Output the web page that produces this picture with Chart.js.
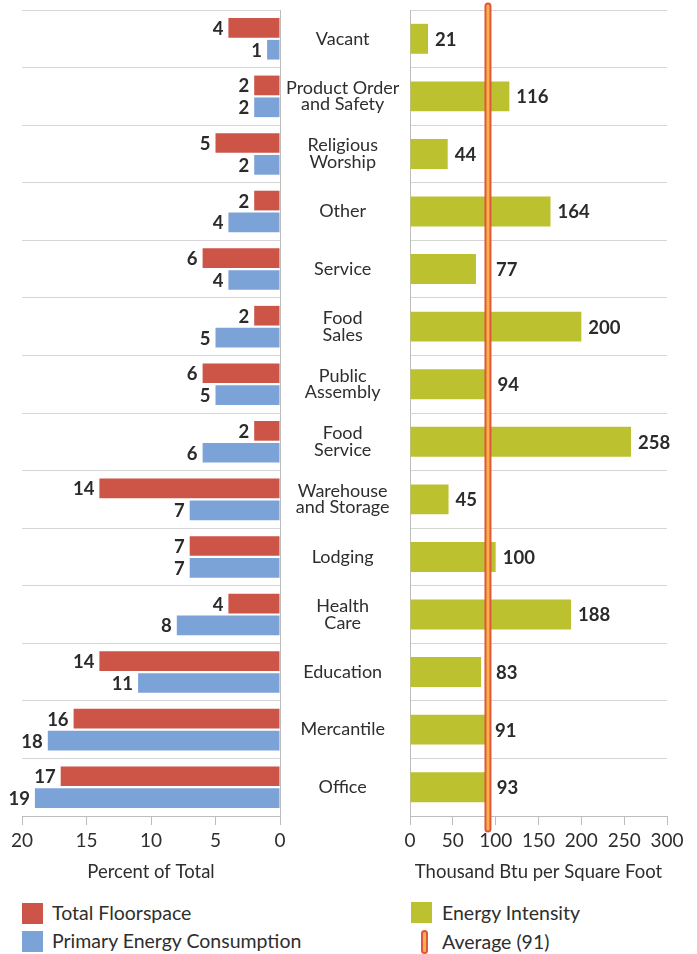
<!DOCTYPE html>
<html>
<head>
<meta charset="utf-8">
<script src="https://cdn.jsdelivr.net/npm/chart.js@4.4.1/dist/chart.umd.min.js"></script>
<style>
  body { margin: 0; background: #fff; font-family: Lato, sans-serif; color: #333; }
  #wrap { position: relative; width: 697px; height: 954px; overflow: hidden; }
  #left { position: absolute; left: 0; top: 0; }
  #right { position: absolute; left: 400px; top: 0; }
  .key { position: absolute; font-size: 19.5px; line-height: 22px; color: #2e2e2e; white-space: nowrap; }
  .sw { position: absolute; width: 21px; height: 21px; }
  .avg { position: absolute; width: 3px; height: 20px; background: #f6b347; border: 2px solid #e2553f; border-radius: 4px; }
</style>
</head>
<body>
<div id="wrap">
  <canvas id="left" width="410" height="890"></canvas>
  <canvas id="right" width="297" height="890"></canvas>

  <div class="sw" style="left:22px; top:903px; background:#cc5548;"></div>
  <div class="key" style="left:52px; top:902px;">Total Floorspace</div>
  <div class="sw" style="left:22px; top:931px; background:#7ba3d8;"></div>
  <div class="key" style="left:52px; top:930px;">Primary Energy Consumption</div>

  <div class="sw" style="left:411px; top:902px; background:#bcc12f;"></div>
  <div class="key" style="left:442px; top:902px;">Energy Intensity</div>
  <div class="avg" style="left:421px; top:930px;"></div>
  <div class="key" style="left:442px; top:931px;">Average (91)</div>
</div>

<script>
// building types, top to bottom
const categories = [
    'Vacant', ['Product Order', 'and Safety'], ['Religious', 'Worship'], 'Other', 'Service',
    ['Food', 'Sales'], ['Public', 'Assembly'], ['Food', 'Service'], ['Warehouse', 'and Storage'],
    'Lodging', ['Health', 'Care'], 'Education', 'Mercantile', 'Office'
];
// percent of total
const floorspace = [4, 2, 5, 2, 6, 2, 6, 2, 14, 7, 4, 14, 16, 17];
const energyUse = [1, 2, 2, 4, 4, 5, 5, 6, 7, 7, 8, 11, 18, 19];
// thousand Btu per square foot
const intensity = [21, 116, 44, 164, 77, 200, 94, 258, 45, 100, 188, 83, 91, 93];
const average = 91;

const percentTicks = { min: 0, max: 20, step: 5 };
const btuTicks = { min: 0, max: 300, step: 50 };

const textColor = '#2e2e2e';
const gridColor = '#d6d6d6';
const axisColor = '#bdbdbd';

// numbers at the end of each bar
const valueLabels = {
    id: 'valueLabels',
    afterDatasetsDraw(chart, args, opts) {
        const ctx = chart.ctx;
        ctx.save();
        ctx.font = 'bold 18.5px Lato';
        ctx.fillStyle = '#2b2b2b';
        ctx.textBaseline = 'middle';
        chart.data.datasets.forEach((ds, i) => {
            chart.getDatasetMeta(i).data.forEach((bar, j) => {
                const text = String(ds.data[j]);
                if (opts.side === 'left') {
                    ctx.textAlign = 'right';
                    ctx.fillText(text, bar.x - 5, bar.y + 1);
                } else {
                    const w = ctx.measureText(text).width;
                    const ax = chart.scales.x.getPixelForValue(average);
                    let x = bar.x + 7;
                    // keep the label clear of the average line
                    if (x < ax + 6 && x + w > ax - 6) x = ax + 8;
                    ctx.textAlign = 'left';
                    ctx.fillText(text, x, bar.y + 1);
                }
            });
        });
        ctx.restore();
    }
};

// the average line drawn over the bars
const averageLine = {
    id: 'averageLine',
    afterDatasetsDraw(chart) {
        const ctx = chart.ctx;
        const x = chart.scales.x.getPixelForValue(average);
        const top = chart.chartArea.top - 4;
        const bottom = chart.chartArea.bottom + 13;
        ctx.save();
        ctx.lineCap = 'round';
        ctx.beginPath();
        ctx.moveTo(x, top);
        ctx.lineTo(x, bottom);
        ctx.strokeStyle = '#e2553f';
        ctx.lineWidth = 7;
        ctx.stroke();
        ctx.beginPath();
        ctx.moveTo(x, top);
        ctx.lineTo(x, bottom);
        ctx.strokeStyle = '#f6b347';
        ctx.lineWidth = 3;
        ctx.stroke();
        ctx.restore();
    }
};

function xAxis(range, reverse, title, titleSize) {
    return {
        reverse: reverse,
        min: range.min,
        max: range.max,
        ticks: { stepSize: range.step, color: textColor, font: { family: 'Lato', size: 19 }, padding: 4, maxRotation: 0 },
        grid: { drawOnChartArea: false, tickLength: 9, color: axisColor },
        border: { color: axisColor },
        title: { display: true, text: title, color: textColor, font: { family: 'Lato', size: titleSize }, padding: { top: 0, bottom: 7 } },
        afterFit: function(scale) { scale.height = 74; }
    };
}

new Chart(document.getElementById('left'), {
    type: 'bar',
    data: {
        labels: categories,
        datasets: [
            { label: 'Total Floorspace', data: floorspace, backgroundColor: '#cc5548', categoryPercentage: 0.76, barPercentage: 0.9 },
            { label: 'Primary Energy Consumption', data: energyUse, backgroundColor: '#7ba3d8', categoryPercentage: 0.76, barPercentage: 0.9 }
        ]
    },
    options: {
        indexAxis: 'y',
        responsive: false,
        animation: false,
        layout: { padding: { top: 10, left: 22, right: 0, bottom: 0 } },
        plugins: { legend: { display: false }, tooltip: { enabled: false }, valueLabels: { side: 'left' } },
        scales: {
            x: xAxis(percentTicks, true, 'Percent of Total', 18.5),
            y: {
                position: 'right',
                ticks: { color: textColor, font: { family: 'Lato', size: 18, lineHeight: 0.92 }, crossAlign: 'center', padding: 6 },
                grid: { color: gridColor, drawTicks: false },
                border: { color: axisColor },
                afterFit: function(scale) {
                    scale.width = 130;
                    // labels sit inside their rows, no extra room needed above
                    scale.paddingTop = 0;
                    scale.paddingBottom = 0;
                }
            }
        }
    },
    plugins: [valueLabels]
});

new Chart(document.getElementById('right'), {
    type: 'bar',
    data: {
        labels: categories,
        datasets: [
            { label: 'Energy Intensity', data: intensity, backgroundColor: '#bcc12f', categoryPercentage: 0.52, barPercentage: 1.0 }
        ]
    },
    options: {
        indexAxis: 'y',
        responsive: false,
        animation: false,
        layout: { padding: { top: 10, left: 10, right: 30, bottom: 0 } },
        plugins: { legend: { display: false }, tooltip: { enabled: false }, valueLabels: { side: 'right' } },
        scales: {
            x: xAxis(btuTicks, false, 'Thousand Btu per Square Foot', 18.5),
            y: {
                ticks: { display: false },
                grid: { color: gridColor, drawTicks: false },
                border: { color: axisColor },
                afterFit: function(scale) { scale.width = 0; }
            }
        }
    },
    plugins: [averageLine, valueLabels]
});
</script>
</body>
</html>
